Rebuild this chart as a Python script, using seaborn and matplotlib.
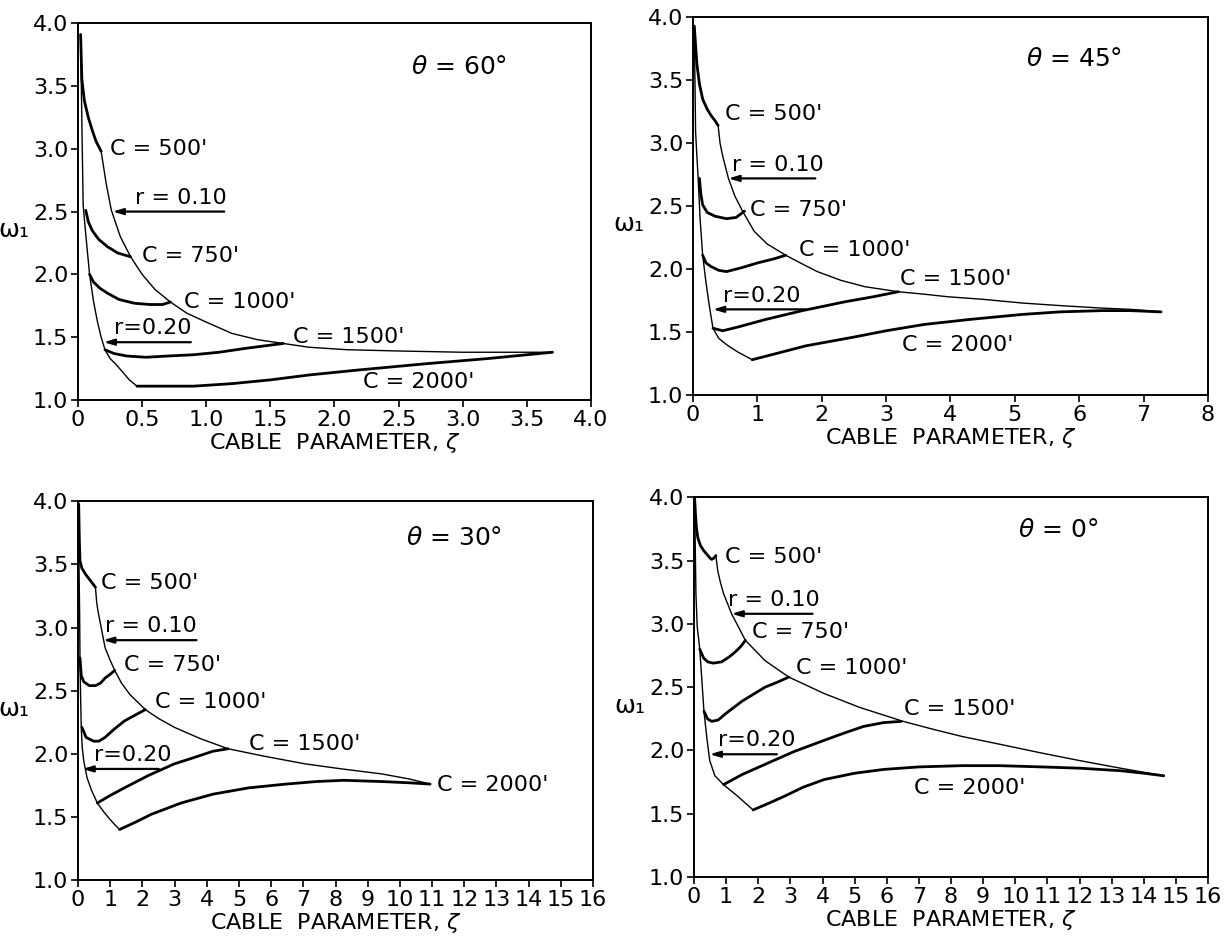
import numpy as np
import pandas as pd
import matplotlib
matplotlib.use("Agg")
import matplotlib.pyplot as plt
import seaborn as sns

# ---------------- data ----------------
# panel theta = 60 deg
p60_c500_x = [0.02, 0.03, 0.05, 0.08, 0.11, 0.14, 0.18]
p60_c500_y = [3.91, 3.55, 3.38, 3.25, 3.15, 3.06, 2.98]
p60_c750_x = [0.06, 0.08, 0.11, 0.16, 0.23, 0.31, 0.41]
p60_c750_y = [2.51, 2.42, 2.35, 2.28, 2.22, 2.17, 2.14]
p60_c1000_x = [0.09, 0.12, 0.17, 0.23, 0.32, 0.44, 0.56, 0.66, 0.72]
p60_c1000_y = [2.00, 1.94, 1.89, 1.85, 1.80, 1.77, 1.76, 1.76, 1.78]
p60_c1500_x = [0.21, 0.28, 0.38, 0.53, 0.70, 0.90, 1.10, 1.30, 1.45, 1.60]
p60_c1500_y = [1.40, 1.37, 1.35, 1.34, 1.35, 1.36, 1.38, 1.41, 1.43, 1.45]
p60_c2000_x = [0.46, 0.70, 0.90, 1.20, 1.50, 1.81, 2.20, 2.73, 3.20, 3.70]
p60_c2000_y = [1.11, 1.11, 1.11, 1.13, 1.16, 1.20, 1.24, 1.29, 1.33, 1.38]
p60_r10_x = [0.18, 0.22, 0.26, 0.33, 0.41, 0.50, 0.60, 0.72, 0.85, 1.00, 1.20, 1.40, 1.60,
             1.80, 2.10, 2.50, 3.00, 3.40, 3.70]
p60_r10_y = [2.98, 2.72, 2.51, 2.30, 2.14, 2.00, 1.88, 1.78, 1.69, 1.62, 1.53, 1.48, 1.45,
             1.42, 1.40, 1.39, 1.38, 1.38, 1.38]
p60_r20_x = [0.02, 0.03, 0.04, 0.06, 0.09, 0.12, 0.15, 0.18, 0.21, 0.25, 0.29, 0.35, 0.40, 0.46]
p60_r20_y = [3.91, 3.20, 2.55, 2.32, 2.00, 1.79, 1.63, 1.50, 1.40, 1.33, 1.29, 1.22, 1.16, 1.11]

# panel theta = 45 deg
p45_c500_x = [0.02, 0.04, 0.06, 0.10, 0.15, 0.22, 0.28, 0.34, 0.39]
p45_c500_y = [3.93, 3.78, 3.63, 3.47, 3.35, 3.27, 3.22, 3.18, 3.14]
p45_c750_x = [0.10, 0.12, 0.15, 0.22, 0.34, 0.52, 0.67, 0.80]
p45_c750_y = [2.72, 2.60, 2.51, 2.45, 2.42, 2.40, 2.41, 2.46]
p45_c1000_x = [0.15, 0.20, 0.28, 0.40, 0.52, 0.75, 1.01, 1.25, 1.44]
p45_c1000_y = [2.11, 2.05, 2.02, 1.99, 1.98, 2.01, 2.05, 2.08, 2.11]
p45_c1500_x = [0.31, 0.46, 0.70, 1.13, 1.70, 2.36, 2.80, 3.19]
p45_c1500_y = [1.53, 1.51, 1.54, 1.60, 1.67, 1.74, 1.78, 1.82]
p45_c2000_x = [0.92, 1.30, 1.75, 2.50, 3.00, 3.59, 4.30, 5.12, 5.70, 6.35, 6.80, 7.27]
p45_c2000_y = [1.28, 1.33, 1.39, 1.46, 1.51, 1.56, 1.60, 1.64, 1.66, 1.67, 1.67, 1.66]
p45_r10_x = [0.39, 0.42, 0.46, 0.55, 0.65, 0.77, 0.95, 1.15, 1.44, 1.70, 1.93, 2.30, 2.67,
             3.19, 3.60, 3.96, 4.50, 5.12, 5.70, 6.35, 6.80, 7.27]
p45_r10_y = [3.14, 3.00, 2.90, 2.72, 2.58, 2.46, 2.30, 2.20, 2.11, 2.04, 1.98, 1.91, 1.86,
             1.82, 1.80, 1.78, 1.76, 1.73, 1.71, 1.69, 1.68, 1.66]
p45_r20_x = [0.02, 0.03, 0.04, 0.06, 0.08, 0.11, 0.15, 0.20, 0.25, 0.31, 0.40, 0.52, 0.70, 0.92]
p45_r20_y = [3.93, 3.50, 3.09, 2.90, 2.72, 2.40, 2.11, 1.90, 1.72, 1.53, 1.45, 1.40, 1.34, 1.28]

# panel theta = 30 deg
p30_c500_x = [0.02, 0.04, 0.06, 0.12, 0.24, 0.36, 0.48, 0.54]
p30_c500_y = [3.98, 3.70, 3.53, 3.47, 3.42, 3.38, 3.34, 3.32]
p30_c750_x = [0.06, 0.10, 0.18, 0.35, 0.54, 0.70, 0.84, 1.00, 1.14]
p30_c750_y = [2.76, 2.62, 2.57, 2.54, 2.54, 2.56, 2.60, 2.63, 2.66]
p30_c1000_x = [0.12, 0.25, 0.48, 0.65, 0.84, 1.10, 1.44, 1.80, 2.09]
p30_c1000_y = [2.21, 2.13, 2.10, 2.10, 2.13, 2.19, 2.26, 2.31, 2.35]
p30_c1500_x = [0.60, 1.00, 1.44, 2.20, 2.99, 3.60, 4.19, 4.66]
p30_c1500_y = [1.61, 1.67, 1.73, 1.83, 1.92, 1.97, 2.02, 2.04]
p30_c2000_x = [1.29, 1.80, 2.27, 3.20, 4.19, 5.30, 6.46, 7.40, 8.25, 9.45, 10.30, 10.94]
p30_c2000_y = [1.40, 1.46, 1.52, 1.61, 1.68, 1.73, 1.76, 1.78, 1.79, 1.78, 1.77, 1.76]
p30_r10_x = [0.54, 0.58, 0.62, 0.72, 0.84, 1.00, 1.14, 1.35, 1.61, 2.09, 2.50, 2.99, 3.80,
             4.66, 5.80, 7.06, 8.20, 9.45, 10.30, 10.94]
p30_r10_y = [3.32, 3.20, 3.13, 3.00, 2.84, 2.74, 2.66, 2.56, 2.47, 2.35, 2.28, 2.21, 2.12,
             2.04, 1.98, 1.92, 1.88, 1.84, 1.80, 1.76]
p30_r20_x = [0.02, 0.03, 0.05, 0.06, 0.08, 0.10, 0.13, 0.18, 0.28, 0.42, 0.60, 0.80, 0.96, 1.10, 1.29]
p30_r20_y = [3.98, 3.50, 3.10, 2.76, 2.45, 2.21, 2.05, 1.94, 1.81, 1.71, 1.61, 1.54, 1.49, 1.45, 1.40]

# panel theta = 0 deg
p0_c500_x = [0.02, 0.05, 0.08, 0.12, 0.20, 0.30, 0.40, 0.50, 0.55, 0.62, 0.68]
p0_c500_y = [3.99, 3.85, 3.75, 3.68, 3.62, 3.58, 3.55, 3.52, 3.51, 3.52, 3.54]
p0_c750_x = [0.18, 0.30, 0.43, 0.60, 0.86, 1.10, 1.29, 1.45, 1.60]
p0_c750_y = [2.80, 2.73, 2.70, 2.69, 2.70, 2.74, 2.78, 2.82, 2.87]
p0_c1000_x = [0.31, 0.42, 0.55, 0.75, 0.98, 1.50, 2.21, 2.60, 2.95]
p0_c1000_y = [2.31, 2.25, 2.23, 2.24, 2.29, 2.39, 2.50, 2.54, 2.58]
p0_c1500_x = [0.92, 1.50, 2.21, 3.10, 4.05, 4.70, 5.28, 5.90, 6.45]
p0_c1500_y = [1.73, 1.81, 1.89, 1.99, 2.08, 2.14, 2.19, 2.22, 2.23]
p0_c2000_x = [1.84, 2.30, 2.83, 3.40, 4.05, 5.00, 5.90, 7.00, 8.35, 9.50, 10.81, 12.00, 13.27, 14.00, 14.62]
p0_c2000_y = [1.53, 1.58, 1.64, 1.71, 1.77, 1.82, 1.85, 1.87, 1.88, 1.88, 1.87, 1.86, 1.84, 1.82, 1.80]
p0_r10_x = [0.68, 0.74, 0.82, 0.92, 1.17, 1.60, 2.21, 2.95, 4.05, 5.16, 6.51, 7.40, 8.35,
            9.50, 10.81, 12.00, 13.27, 14.62]
p0_r10_y = [3.54, 3.42, 3.33, 3.24, 3.08, 2.87, 2.71, 2.58, 2.45, 2.34, 2.23, 2.17, 2.11,
            2.05, 1.98, 1.92, 1.86, 1.80]
p0_r20_x = [0.02, 0.04, 0.06, 0.10, 0.18, 0.31, 0.40, 0.49, 0.65, 0.92, 1.35, 1.84]
p0_r20_y = [3.99, 3.60, 3.24, 2.98, 2.80, 2.31, 2.10, 1.92, 1.80, 1.73, 1.64, 1.53]

cable_lengths = ["500", "750", "1000", "1500", "2000"]
theta_labels = ["60", "45", "30", "0"]

xticks_60 = [0, 0.5, 1.0, 1.5, 2.0, 2.5, 3.0, 3.5, 4.0]
xticklabels_60 = ["0", "0.5", "1.0", "1.5", "2.0", "2.5", "3.0", "3.5", "4.0"]
xticks_45 = [0, 1, 2, 3, 4, 5, 6, 7, 8]
xticks_16 = list(range(17))
yticks = [1.0, 1.5, 2.0, 2.5, 3.0, 3.5, 4.0]
yticklabels = ["1.0", "1.5", "2.0", "2.5", "3.0", "3.5", "4.0"]

# ---------------- style ----------------
sns.set_theme(style="ticks")
plt.rcParams['font.family'] = ['DejaVu Sans']
plt.rcParams['mathtext.fontset'] = 'dejavusans'
plt.rcParams['axes.edgecolor'] = 'black'
plt.rcParams['axes.linewidth'] = 1.4

fig = plt.figure(figsize=(12.27, 9.42), dpi=100)

panels = [
    dict(theta="60", rect=[0.0636, 0.5754, 0.418, 0.400], xlim=4.0, xticks=xticks_60, xtl=xticklabels_60,
         c=[(p60_c500_x, p60_c500_y), (p60_c750_x, p60_c750_y), (p60_c1000_x, p60_c1000_y),
            (p60_c1500_x, p60_c1500_y), (p60_c2000_x, p60_c2000_y)],
         r10=(p60_r10_x, p60_r10_y), r20=(p60_r20_x, p60_r20_y),
         clab=[(0.25, 3.00), (0.50, 2.15), (0.83, 1.78), (1.68, 1.50), (2.22, 1.14)],
         thpos=(2.6, 3.65),
         a10=(1.14, 0.27, 2.50), t10=(0.80, 2.53),
         a20=(0.88, 0.20, 1.46), t20=(0.58, 1.49)),
    dict(theta="45", rect=[0.5648, 0.5807, 0.4197, 0.401], xlim=8.0, xticks=xticks_45,
         xtl=[str(v) for v in xticks_45],
         c=[(p45_c500_x, p45_c500_y), (p45_c750_x, p45_c750_y), (p45_c1000_x, p45_c1000_y),
            (p45_c1500_x, p45_c1500_y), (p45_c2000_x, p45_c2000_y)],
         r10=(p45_r10_x, p45_r10_y), r20=(p45_r20_x, p45_r20_y),
         clab=[(0.50, 3.23), (0.88, 2.47), (1.64, 2.15), (3.22, 1.92), (3.25, 1.40)],
         thpos=(5.18, 3.67),
         a10=(1.90, 0.55, 2.72), t10=(1.32, 2.75),
         a20=(1.75, 0.31, 1.68), t20=(1.07, 1.71)),
    dict(theta="30", rect=[0.0636, 0.0658, 0.4197, 0.402], xlim=16.0, xticks=xticks_16,
         xtl=[str(v) for v in xticks_16],
         c=[(p30_c500_x, p30_c500_y), (p30_c750_x, p30_c750_y), (p30_c1000_x, p30_c1000_y),
            (p30_c1500_x, p30_c1500_y), (p30_c2000_x, p30_c2000_y)],
         r10=(p30_r10_x, p30_r10_y), r20=(p30_r20_x, p30_r20_y),
         clab=[(0.72, 3.35), (1.42, 2.70), (2.40, 2.41), (5.30, 2.08), (11.15, 1.75)],
         thpos=(10.2, 3.71),
         a10=(3.68, 0.78, 2.90), t10=(2.27, 2.93),
         a20=(2.51, 0.14, 1.88), t20=(1.70, 1.91)),
    dict(theta="0", rect=[0.5656, 0.069, 0.419, 0.403], xlim=16.0, xticks=xticks_16,
         xtl=[str(v) for v in xticks_16],
         c=[(p0_c500_x, p0_c500_y), (p0_c750_x, p0_c750_y), (p0_c1000_x, p0_c1000_y),
            (p0_c1500_x, p0_c1500_y), (p0_c2000_x, p0_c2000_y)],
         r10=(p0_r10_x, p0_r10_y), r20=(p0_r20_x, p0_r20_y),
         clab=[(0.98, 3.53), (1.82, 2.94), (3.17, 2.65), (6.55, 2.33), (6.85, 1.70)],
         thpos=(10.07, 3.74),
         a10=(3.69, 1.17, 3.08), t10=(2.50, 3.11),
         a20=(2.58, 0.49, 1.97), t20=(1.95, 2.00)),
]

FS = 16
for p in panels:
    ax = fig.add_axes(p["rect"])
    # thick constant-C curves
    for (xs, ys) in p["c"]:
        sns.lineplot(x=xs, y=ys, ax=ax, sort=False, estimator=None, color="black",
                     linewidth=2.0, legend=False)
    # thin envelope curves
    for (xs, ys) in (p["r10"], p["r20"]):
        sns.lineplot(x=xs, y=ys, ax=ax, sort=False, estimator=None, color="black",
                     linewidth=1.0, legend=False)

    ax.set_xlim(0, p["xlim"])
    ax.set_ylim(1.0, 4.0)
    ax.set_xticks(p["xticks"])
    ax.set_xticklabels(p["xtl"])
    ax.set_yticks(yticks)
    ax.set_yticklabels(yticklabels)
    ax.tick_params(axis="both", direction="out", length=5, width=1.2, labelsize=FS,
                   colors="black", pad=2)
    for s in ax.spines.values():
        s.set_visible(True)
        s.set_color("black")
        s.set_linewidth(1.4)

    ax.set_xlabel("CABLE  PARAMETER, $\\zeta$", fontsize=FS, color="black", labelpad=1)
    ax.set_ylabel("ω₁", fontsize=FS + 2, rotation=0, color="black")
    ax.yaxis.set_label_coords(-0.125, 0.42)

    for name, (tx, ty) in zip(cable_lengths, p["clab"]):
        ax.text(tx, ty, f"C = {name}'", fontsize=FS, ha="left", va="center", color="black")

    ax.text(p["thpos"][0], p["thpos"][1], f"$\\theta$ = {p['theta']}°", fontsize=FS + 2,
            ha="left", va="center", color="black")

    for (ar, tx, lab) in ((p["a10"], p["t10"], "r = 0.10"), (p["a20"], p["t20"], "r=0.20")):
        x0, x1, ya = ar
        ax.annotate("", xy=(x1, ya), xytext=(x0, ya),
                    arrowprops=dict(arrowstyle="-|>,head_length=0.5,head_width=0.15",
                                    color="black", lw=1.6, shrinkA=0, shrinkB=0))
        ax.text(tx[0], tx[1], lab, fontsize=FS, ha="center", va="bottom", color="black")

fig.savefig("out.png", dpi=100)
